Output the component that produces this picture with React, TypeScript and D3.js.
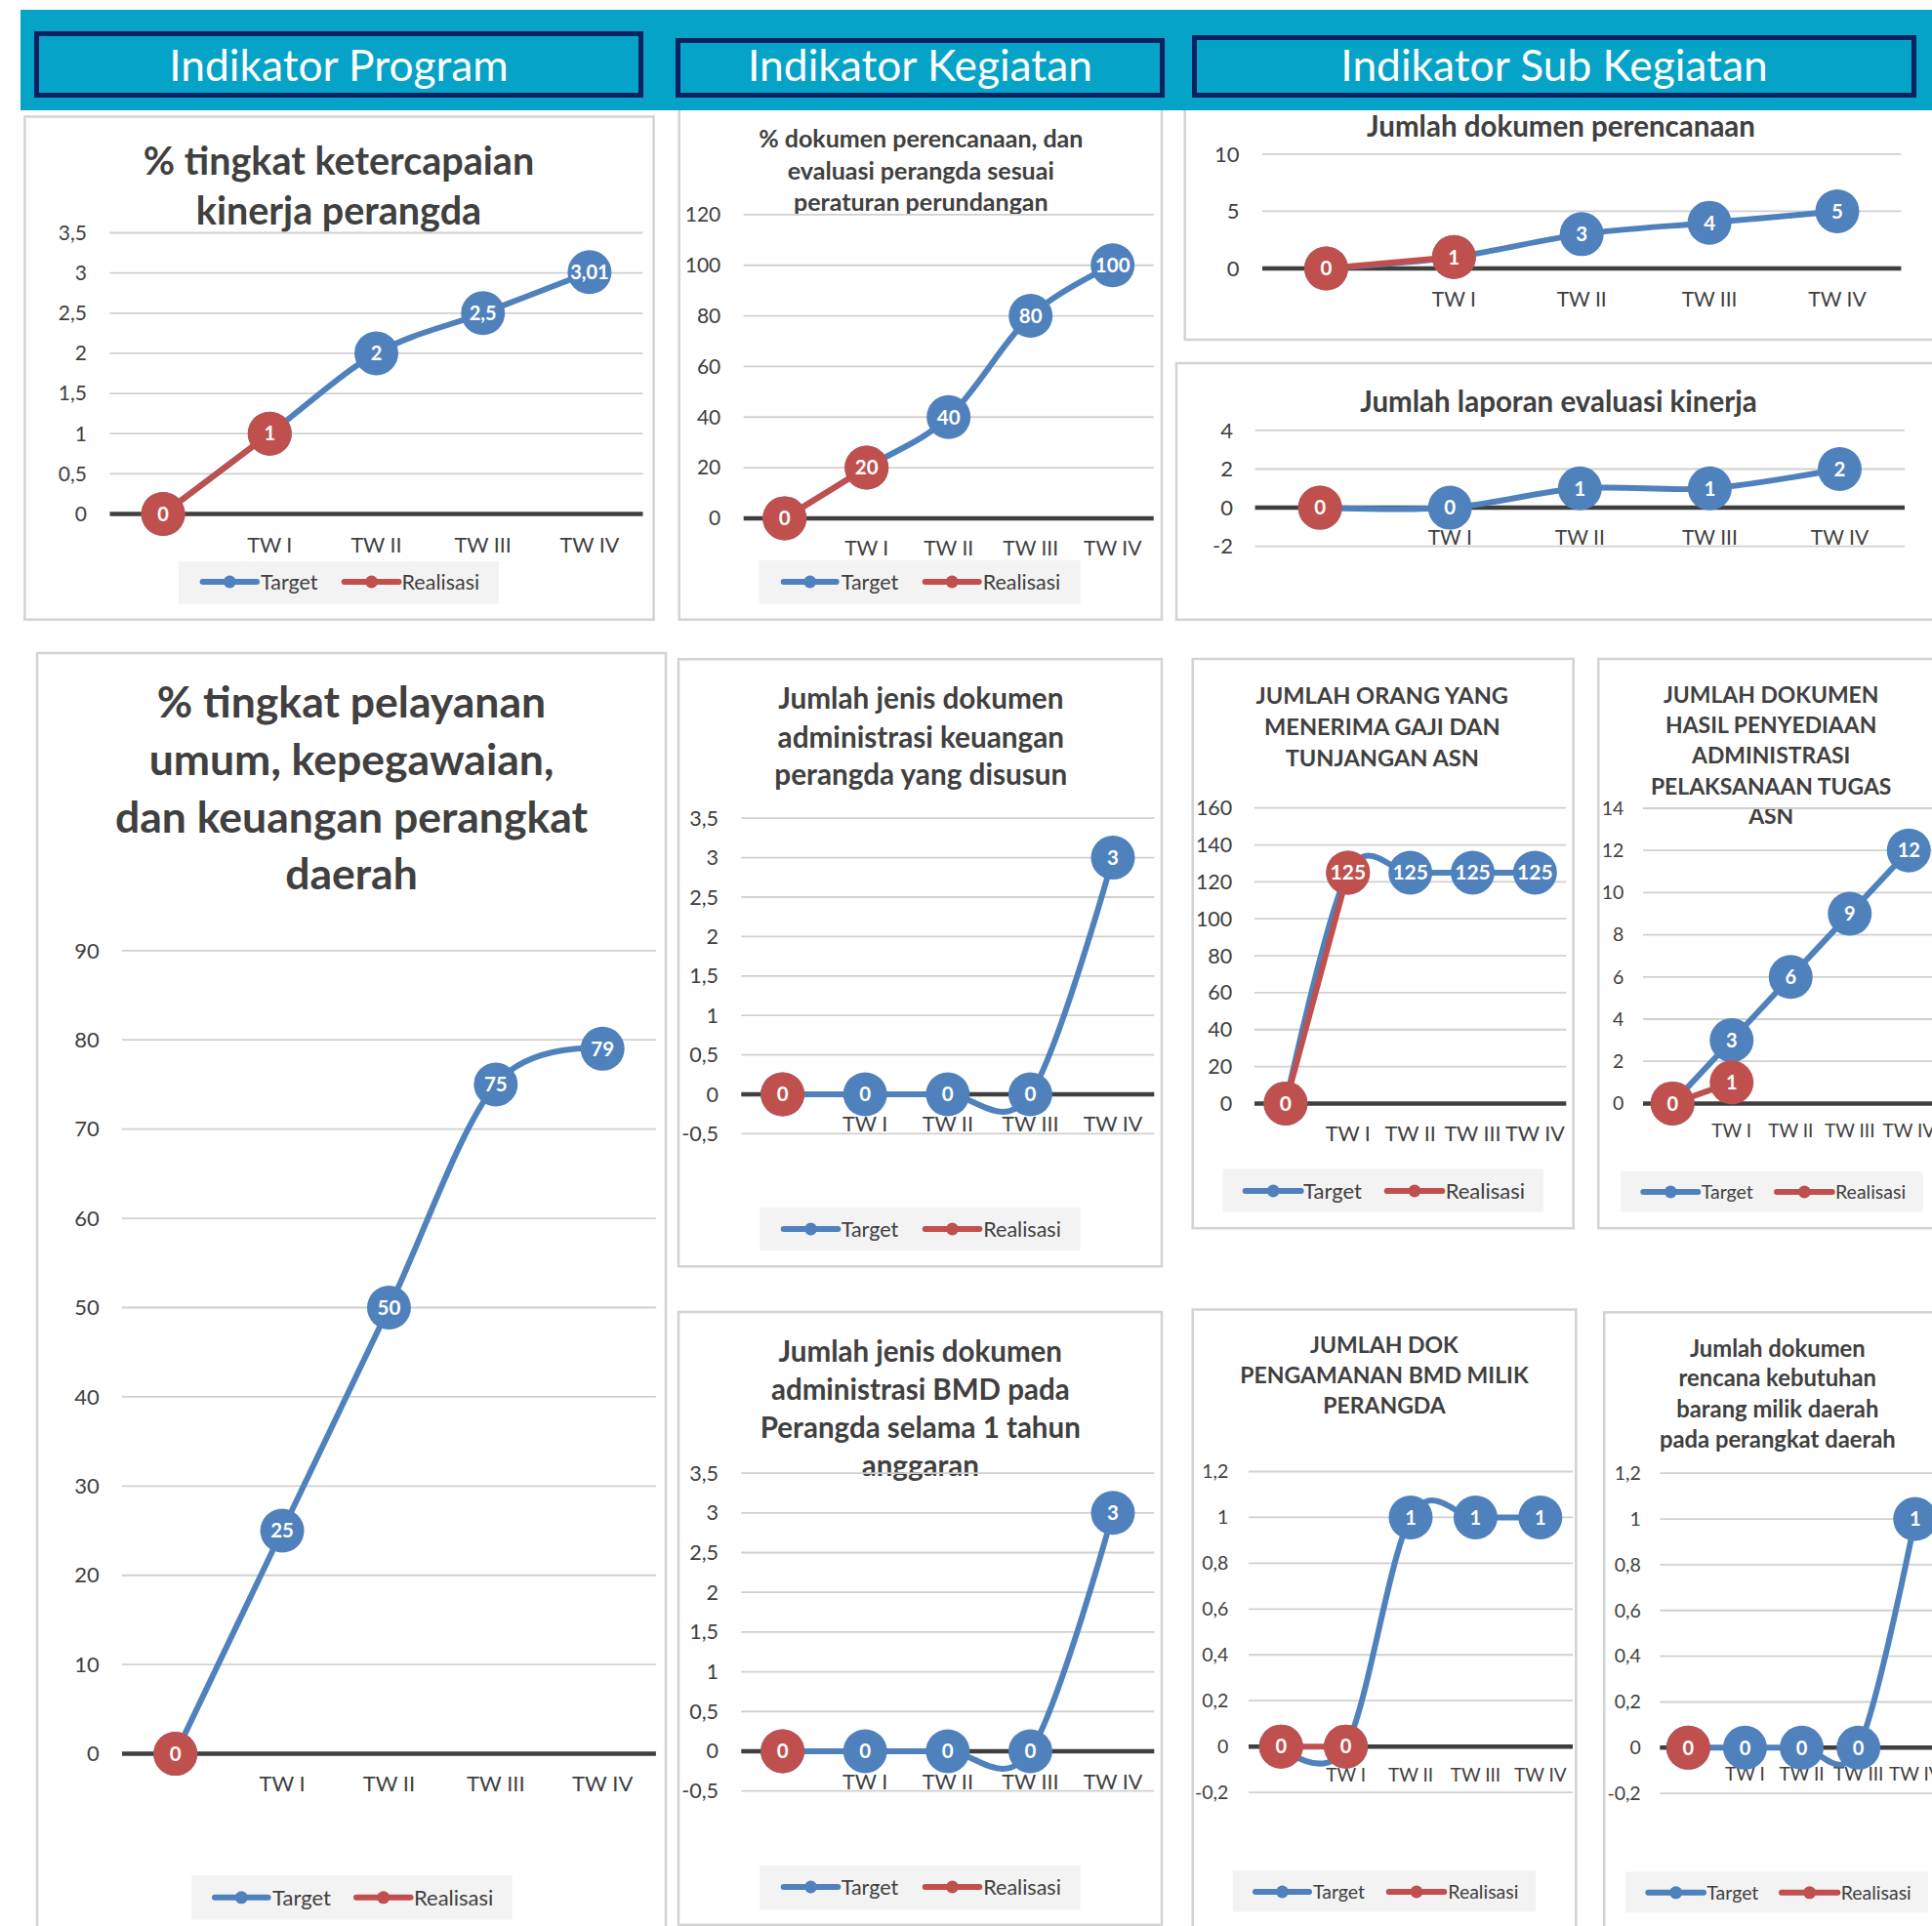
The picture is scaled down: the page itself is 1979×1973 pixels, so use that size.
import React from "react";
import * as d3 from "d3";

// ---------- data ----------
const categories = ["", "TW I", "TW II", "TW III", "TW IV"];
const headerLabels = ["Indikator Program", "Indikator Kegiatan", "Indikator Sub Kegiatan"];
const legendLabels = ["Target", "Realisasi"];

const targetA = [0, 1, 2, 2.5, 3.01];
const realA = [0, 1, null, null, null];
const ticksA = [0, 0.5, 1, 1.5, 2, 2.5, 3, 3.5];

const targetB = [0, 20, 40, 80, 100];
const realB = [0, 20, null, null, null];
const ticksB = [0, 20, 40, 60, 80, 100, 120];

const targetC = [0, 1, 3, 4, 5];
const realC = [0, 1, null, null, null];
const ticksC = [0, 5, 10];

const targetD = [0, 0, 1, 1, 2];
const realD = [0, null, null, null, null];
const ticksD = [-2, 0, 2, 4];

const targetE = [0, 25, 50, 75, 79];
const realE = [0, null, null, null, null];
const ticksE = [0, 10, 20, 30, 40, 50, 60, 70, 80, 90];

const targetF = [0, 0, 0, 0, 3];
const realF = [0, null, null, null, null];
const ticksF = [-0.5, 0, 0.5, 1, 1.5, 2, 2.5, 3, 3.5];

const targetG = [0, 0, 0, 0, 3];
const realG = [0, null, null, null, null];
const ticksG = [-0.5, 0, 0.5, 1, 1.5, 2, 2.5, 3, 3.5];

const targetH = [0, 125, 125, 125, 125];
const realH = [0, 125, null, null, null];
const ticksH = [0, 20, 40, 60, 80, 100, 120, 140, 160];

const targetI = [0, 3, 6, 9, 12];
const realI = [0, 1, null, null, null];
const ticksI = [0, 2, 4, 6, 8, 10, 12, 14];

const targetJ = [0, 0, 1, 1, 1];
const realJ = [0, 0, null, null, null];
const ticksJ = [-0.2, 0, 0.2, 0.4, 0.6, 0.8, 1, 1.2];

const targetK = [0, 0, 0, 0, 1];
const realK = [0, null, null, null, null];
const ticksK = [-0.2, 0, 0.2, 0.4, 0.6, 0.8, 1, 1.2];

const titleA = ["% tingkat ketercapaian", "kinerja perangda"];
const titleB = ["% dokumen perencanaan, dan", "evaluasi perangda sesuai", "peraturan perundangan"];
const titleC = ["Jumlah dokumen perencanaan"];
const titleD = ["Jumlah laporan evaluasi kinerja"];
const titleE = ["% tingkat pelayanan", "umum, kepegawaian,", "dan keuangan perangkat", "daerah"];
const titleF = ["Jumlah jenis dokumen", "administrasi keuangan", "perangda yang disusun"];
const titleG = ["Jumlah jenis dokumen", "administrasi BMD pada", "Perangda selama 1 tahun", "anggaran"];
const titleH = ["JUMLAH ORANG YANG", "MENERIMA GAJI DAN", "TUNJANGAN ASN"];
const titleI = ["JUMLAH DOKUMEN", "HASIL PENYEDIAAN", "ADMINISTRASI", "PELAKSANAAN TUGAS", "ASN"];
const titleJ = ["JUMLAH DOK", "PENGAMANAN BMD MILIK", "PERANGDA"];
const titleK = ["Jumlah dokumen", "rencana kebutuhan", "barang milik daerah", "pada perangkat daerah"];

// ---------- styles ----------
const BLUE = "#4F81BD";
const RED = "#C0504D";
const TEAL = "#05A3C7";
const NAVY = "#0B2161";
const TXT = "#404040";
const GRID = "#D0D0D0";
const FONT = "Lato, 'Open Sans', sans-serif";

type Legend = { bg: number[]; blue: number[]; tx: number; red: number[]; rx: number; cy: number; fs: number };
type Cfg = {
  box: number[];
  title: string[]; titleX: number; titleY: number[]; titleSize: number;
  px: [number, number];
  yDomain: [number, number]; yRange: [number, number];
  ticks: number[]; tickX: number; tickSize: number;
  catDy: number; catSize: number; labelSize: number;
  target: (number | null)[]; real: (number | null)[];
  legend?: Legend;
};

const charts: Cfg[] = [
  {
    box: [25.4, 119.5, 669.6, 634.7], title: titleA, titleX: 347, titleY: [179, 230], titleSize: 39.5,
    px: [112.5, 658.5], yDomain: [0, 3.5], yRange: [526.5, 238.5], ticks: ticksA, tickX: 89, tickSize: 21,
    catDy: 31.5, catSize: 21.5, labelSize: 20, target: targetA, real: realA,
    legend: { bg: [183, 575, 511, 619], blue: [207.6, 263], tx: 267, red: [352.7, 408.5], rx: 411.6, cy: 596, fs: 21.5 },
  },
  {
    box: [695.7, 100, 1190, 634.7], title: titleB, titleX: 943.3, titleY: [151.2, 183.7, 215.5], titleSize: 25,
    px: [761.7, 1181.7], yDomain: [0, 120], yRange: [530.9, 219.9], ticks: ticksB, tickX: 738.3, tickSize: 21,
    catDy: 30.5, catSize: 21, labelSize: 20.5, target: targetB, real: realB,
    legend: { bg: [777.7, 573.8, 1106.7, 618.8], blue: [802.7, 856.7], tx: 861.7, red: [947.7, 1002.7], rx: 1006.7, cy: 596, fs: 21.5 },
  },
  {
    box: [1213.7, 100, 2000, 348], title: titleC, titleX: 1599, titleY: [140], titleSize: 29.5,
    px: [1293, 1947.4], yDomain: [0, 10], yRange: [275, 157.9], ticks: ticksC, tickX: 1269.5, tickSize: 22,
    catDy: 31.6, catSize: 21, labelSize: 20.5, target: targetC, real: realC,
  },
  {
    box: [1205, 372, 2000, 634.8], title: titleD, titleX: 1596.4, titleY: [422], titleSize: 29.5,
    px: [1285.6, 1951], yDomain: [-2, 4], yRange: [559.7, 440.9], ticks: ticksD, tickX: 1263, tickSize: 22,
    catDy: 31, catSize: 21, labelSize: 20.5, target: targetD, real: realD,
  },
  {
    box: [38, 669, 682, 2000], title: titleE, titleX: 360, titleY: [734.6, 793.5, 852.8, 910.8], titleSize: 44.5,
    px: [125, 671.9], yDomain: [0, 90], yRange: [1796.6, 973.8], ticks: ticksE, tickX: 101.8, tickSize: 22,
    catDy: 30.4, catSize: 22, labelSize: 20.5, target: targetE, real: realE,
    legend: { bg: [196.4, 1921, 524.6, 1966.5], blue: [220, 274.6], tx: 279, red: [365, 420.5], rx: 424, cy: 1943.8, fs: 22 },
  },
  {
    box: [695, 675.3, 1190, 1297.3], title: titleF, titleX: 943.3, titleY: [726.3, 765.9, 803.9], titleSize: 29.7,
    px: [759.3, 1182.3], yDomain: [-0.5, 3.5], yRange: [1161.4, 838.2], ticks: ticksF, tickX: 736, tickSize: 21.5,
    catDy: 30.6, catSize: 21.5, labelSize: 20.5, target: targetF, real: realF,
    legend: { bg: [778.3, 1237.3, 1106.7, 1281], blue: [802.7, 858.3], tx: 861.7, red: [947.7, 1003.3], rx: 1007.3, cy: 1259, fs: 21.5 },
  },
  {
    box: [695, 1344, 1190, 1971.7], title: titleG, titleX: 942.8, titleY: [1395.2, 1433.9, 1473.3, 1512], titleSize: 29.5,
    px: [759.3, 1182.3], yDomain: [-0.5, 3.5], yRange: [1834.6, 1509.1], ticks: ticksG, tickX: 736, tickSize: 21.5,
    catDy: 31.3, catSize: 21.5, labelSize: 20.5, target: targetG, real: realG,
    legend: { bg: [778.3, 1910.7, 1106.7, 1956.2], blue: [802.7, 858.3], tx: 861.7, red: [947.7, 1003.3], rx: 1007.3, cy: 1933, fs: 21.5 },
  },
  {
    box: [1221.7, 675, 1611.7, 1258.2], title: titleH, titleX: 1415.8, titleY: [720.5, 753, 784.8], titleSize: 23.6,
    px: [1285, 1604.3], yDomain: [0, 160], yRange: [1130.4, 827.7], ticks: ticksH, tickX: 1262.3, tickSize: 21.5,
    catDy: 31.4, catSize: 21.5, labelSize: 21, target: targetH, real: realH,
    legend: { bg: [1252.3, 1197.4, 1581, 1241.4], blue: [1275.7, 1332.7], tx: 1335, red: [1420.7, 1477.3], rx: 1480.7, cy: 1220, fs: 22 },
  },
  {
    box: [1637.3, 675, 2000, 1258.2], title: titleI, titleX: 1814.2, titleY: [719.8, 751.1, 781.7, 813.5, 844.1], titleSize: 22.9,
    px: [1683, 1985.5], yDomain: [0, 14], yRange: [1130.4, 828], ticks: ticksI, tickX: 1663.3, tickSize: 19.5,
    catDy: 27.6, catSize: 19, labelSize: 20, target: targetI, real: realI,
    legend: { bg: [1660, 1200, 1970, 1241.4], blue: [1683.3, 1739.3], tx: 1742.7, red: [1820, 1876.7], rx: 1880, cy: 1221, fs: 19.5 },
  },
  {
    box: [1221.7, 1341.5, 1614.3, 2000], title: titleJ, titleX: 1418, titleY: [1386.2, 1416.9, 1448], titleSize: 23,
    px: [1279, 1611], yDomain: [-0.2, 1.2], yRange: [1836.1, 1507.5], ticks: ticksJ, tickX: 1258.3, tickSize: 19.5,
    catDy: 28.7, catSize: 19, labelSize: 20, target: targetJ, real: realJ,
    legend: { bg: [1262.7, 1916.3, 1573.3, 1958.5], blue: [1286, 1341], tx: 1345, red: [1422.7, 1479.3], rx: 1483.3, cy: 1938, fs: 19.5 },
  },
  {
    box: [1643.3, 1344.4, 2000, 2000], title: titleK, titleX: 1820.8, titleY: [1389.5, 1420.2, 1451.8, 1482.5], titleSize: 23.8,
    px: [1700.3, 1990.8], yDomain: [-0.2, 1.2], yRange: [1837.2, 1509.2], ticks: ticksK, tickX: 1680.7, tickSize: 19.5,
    catDy: 27.5, catSize: 19, labelSize: 20, target: targetK, real: realK,
    legend: { bg: [1665, 1917.5, 1975, 1959.4], blue: [1688.3, 1745], tx: 1748.3, red: [1825, 1882.3], rx: 1885.7, cy: 1938.8, fs: 19.5 },
  },
];

const headerBoxes = [
  [35, 32, 659, 100],
  [692, 39, 1193, 100],
  [1221, 36, 1963, 100],
];

const fmt = (v: number) => String(+v.toFixed(2)).replace(".", ",");

type Pt = { cx: number; v: number };

function Series({ vals, color, x, y, labelSize }: { vals: (number | null)[]; color: string; x: (s: string) => number; y: d3.ScaleLinear<number, number>; labelSize: number }) {
  const pts: Pt[] = vals
    .map((v, i) => ({ cx: x(categories[i]), v: v as number }))
    .filter((d, i) => vals[i] !== null);
  const line = d3
    .line<Pt>()
    .x((d) => d.cx)
    .y((d) => y(d.v))
    .curve(d3.curveCardinal.tension(0));
  return (
    <g>
      <path d={line(pts) || ""} fill="none" stroke={color} strokeWidth={6} strokeLinejoin="round" />
      {pts.map((d, i) => (
        <g key={i}>
          <circle cx={d.cx} cy={y(d.v)} r={22.5} fill={color} />
          <text x={d.cx} y={y(d.v)} dy="0.36em" textAnchor="middle" fill="#fff" fontWeight={700} fontSize={labelSize} fontFamily={FONT}>
            {fmt(d.v)}
          </text>
        </g>
      ))}
    </g>
  );
}

function Chart({ c }: { c: Cfg }) {
  const ps = d3.scalePoint<string>().domain(categories).range(c.px).padding(0.5);
  const x = (s: string) => ps(s) as number;
  const y = d3.scaleLinear().domain(c.yDomain).range(c.yRange);
  const [bx0, by0, bx1, by1] = c.box;
  const y0 = y(0);
  return (
    <g>
      <rect x={bx0} y={by0} width={bx1 - bx0} height={by1 - by0} fill="#fff" stroke="#D3D3D3" strokeWidth={2.5} />
      {c.title.map((t, i) => (
        <text key={i} x={c.titleX} y={c.titleY[i]} textAnchor="middle" fill={TXT} fontWeight={700} fontSize={c.titleSize} fontFamily={FONT}>
          {t}
        </text>
      ))}
      {c.ticks.filter((t) => t !== 0).map((t) => (
        <line key={t} x1={c.px[0]} x2={c.px[1]} y1={y(t)} y2={y(t)} stroke={GRID} strokeWidth={1.8} />
      ))}
      {c.ticks.map((t) => (
        <text key={"l" + t} x={c.tickX} y={y(t)} dy="0.35em" textAnchor="end" fill={TXT} fontSize={c.tickSize} fontFamily={FONT}>
          {fmt(t)}
        </text>
      ))}
      {categories.map((cat) => (
        <text key={"c" + cat} x={x(cat)} y={y0 + c.catDy} dy="0.35em" textAnchor="middle" fill={TXT} fontSize={c.catSize} fontFamily={FONT}>
          {cat}
        </text>
      ))}
      <line x1={c.px[0]} x2={c.px[1]} y1={y0} y2={y0} stroke="#3F3F3F" strokeWidth={4.5} />
      <Series vals={c.target} color={BLUE} x={x} y={y} labelSize={c.labelSize} />
      <Series vals={c.real} color={RED} x={x} y={y} labelSize={c.labelSize} />
      {c.legend && (
        <g>
          <rect x={c.legend.bg[0]} y={c.legend.bg[1]} width={c.legend.bg[2] - c.legend.bg[0]} height={c.legend.bg[3] - c.legend.bg[1]} fill="#F3F3F3" />
          {[
            { seg: c.legend.blue, tx: c.legend.tx, color: BLUE, label: legendLabels[0] },
            { seg: c.legend.red, tx: c.legend.rx, color: RED, label: legendLabels[1] },
          ].map((it) => (
            <g key={it.label}>
              <line x1={it.seg[0]} x2={it.seg[1]} y1={c.legend!.cy} y2={c.legend!.cy} stroke={it.color} strokeWidth={6} strokeLinecap="round" />
              <circle cx={(it.seg[0] + it.seg[1]) / 2} cy={c.legend!.cy} r={6.5} fill={it.color} />
              <text x={it.tx} y={c.legend!.cy} dy="0.35em" fill={TXT} fontSize={c.legend!.fs} fontFamily={FONT}>
                {it.label}
              </text>
            </g>
          ))}
        </g>
      )}
    </g>
  );
}

export default function App() {
  return (
    <svg width={1979} height={1973} style={{ position: "absolute", left: 0, top: 0, display: "block", background: "#fff" }}>
      <rect x={0} y={0} width={1979} height={1973} fill="#fff" />
      {charts.map((c, i) => (
        <Chart key={i} c={c} />
      ))}
      <rect x={21} y={10} width={1958} height={103} fill={TEAL} />
      {headerBoxes.map((b, i) => (
        <g key={i}>
          <rect x={b[0] + 2.5} y={b[1] + 2.5} width={b[2] - b[0] - 5} height={b[3] - b[1] - 5} fill={TEAL} stroke={NAVY} strokeWidth={5} />
          <text x={(b[0] + b[2]) / 2} y={83} textAnchor="middle" fill="#fff" fontSize={44.3} fontFamily={FONT}>
            {headerLabels[i]}
          </text>
        </g>
      ))}
    </svg>
  );
}
